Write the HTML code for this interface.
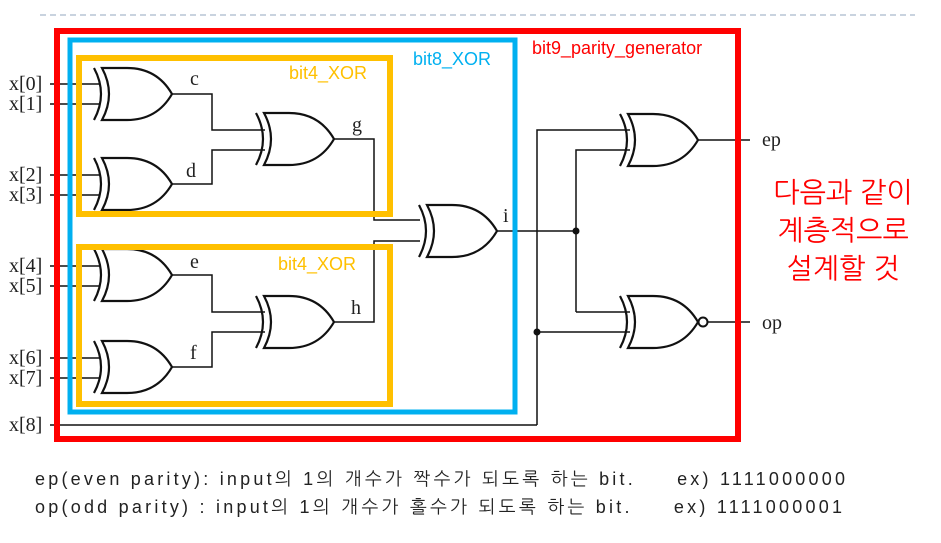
<!DOCTYPE html>
<html><head><meta charset="utf-8"><style>
html,body{margin:0;padding:0;background:#fff;width:941px;height:543px;overflow:hidden}
svg{display:block}
.s{font-family:"Liberation Serif",serif;font-size:20px;fill:#222}
.k{font-family:"Liberation Sans","NanumGothic","Noto Sans CJK KR",sans-serif}
</style></head><body>
<svg width="941" height="543" viewBox="0 0 941 543">
<defs>
<g id="x"><path d="M0 0 L25 0 Q55 0 70 26 Q55 52 25 52 L0 52 Q14 26 0 0 Z" fill="#fff" stroke="#111" stroke-width="2.2"/><path d="M-8 0 Q6 26 -8 52" fill="none" stroke="#111" stroke-width="2.2"/></g>
</defs>
<line x1="40" y1="15" x2="915" y2="15" stroke="#a9b9cc" stroke-width="1.2" stroke-dasharray="6,4"/>
<g stroke="#111" stroke-width="1.5" fill="none">
<path d="M50 84H100M50 104H100M50 175H100M50 195H100M50 266H100M50 286H100M50 358H100M50 378H100"/>
<path d="M172 94H212V130H265M172 184H212V150H265M172 275H212V312H265M172 367H212V332H265"/>
<path d="M334 139H374V220H420M334 322H374V241H420"/>
<path d="M496 231H576M537 425V130H630M576 312V150H630M576 312H630M537 332H630M50 425H537"/>
<path d="M698 140H750M708 322H750"/>
</g>
<circle cx="576" cy="231" r="3.5" fill="#111"/><circle cx="537" cy="332" r="3.5" fill="#111"/>
<use href="#x" x="102" y="68"/><use href="#x" x="102" y="158"/><use href="#x" x="102" y="249"/><use href="#x" x="102" y="341"/>
<use href="#x" x="264" y="113"/><use href="#x" x="264" y="296"/><use href="#x" x="427" y="205"/>
<use href="#x" x="628" y="114"/><use href="#x" x="628" y="296"/>
<circle cx="703" cy="322" r="4.5" fill="#fff" stroke="#111" stroke-width="2"/>
<g class="s">
<text x="9" y="90">x[0]</text><text x="9" y="110">x[1]</text><text x="9" y="181">x[2]</text><text x="9" y="201">x[3]</text>
<text x="9" y="272">x[4]</text><text x="9" y="292">x[5]</text><text x="9" y="364">x[6]</text><text x="9" y="384">x[7]</text><text x="9" y="431">x[8]</text>
<text x="190" y="85">c</text><text x="186" y="177">d</text><text x="190" y="268">e</text><text x="190" y="359">f</text>
<text x="352" y="131">g</text><text x="351" y="314">h</text><text x="503" y="222">i</text>
<text x="762" y="146">ep</text><text x="762" y="329">op</text>
</g>
<rect x="57" y="31" width="681" height="408" fill="none" stroke="#ff0000" stroke-width="6"/>
<rect x="70" y="40" width="445" height="372" fill="none" stroke="#00b0f0" stroke-width="5"/>
<rect x="79" y="58" width="311" height="156" fill="none" stroke="#ffc000" stroke-width="6"/>
<rect x="79" y="247" width="311" height="157" fill="none" stroke="#ffc000" stroke-width="6"/>
<g class="k" font-size="18">
<text x="289" y="79" fill="#ffc000">bit4_XOR</text>
<text x="278" y="270" fill="#ffc000">bit4_XOR</text>
<text x="413" y="65" fill="#00b0f0">bit8_XOR</text>
<text x="532" y="54" fill="#ff0000">bit9_parity_generator</text>
</g>
<g class="k" font-size="28" fill="#ff0000" text-anchor="middle">
<text x="843" y="202">다음과 같이</text>
<text x="843" y="240">계층적으로</text>
<text x="843" y="278">설계할 것</text>
</g>
<g class="k" font-size="18" fill="#222">
<text x="35" y="485" textLength="810" lengthAdjust="spacing">ep(even parity): input의 1의 개수가 짝수가 되도록 하는 bit.&#160;&#160;&#160;&#160; ex) 1111000000</text>
<text x="35" y="513" textLength="807" lengthAdjust="spacing">op(odd parity) : input의 1의 개수가 홀수가 되도록 하는 bit.&#160;&#160;&#160;&#160; ex) 1111000001</text>
</g>
</svg>
</body></html>
